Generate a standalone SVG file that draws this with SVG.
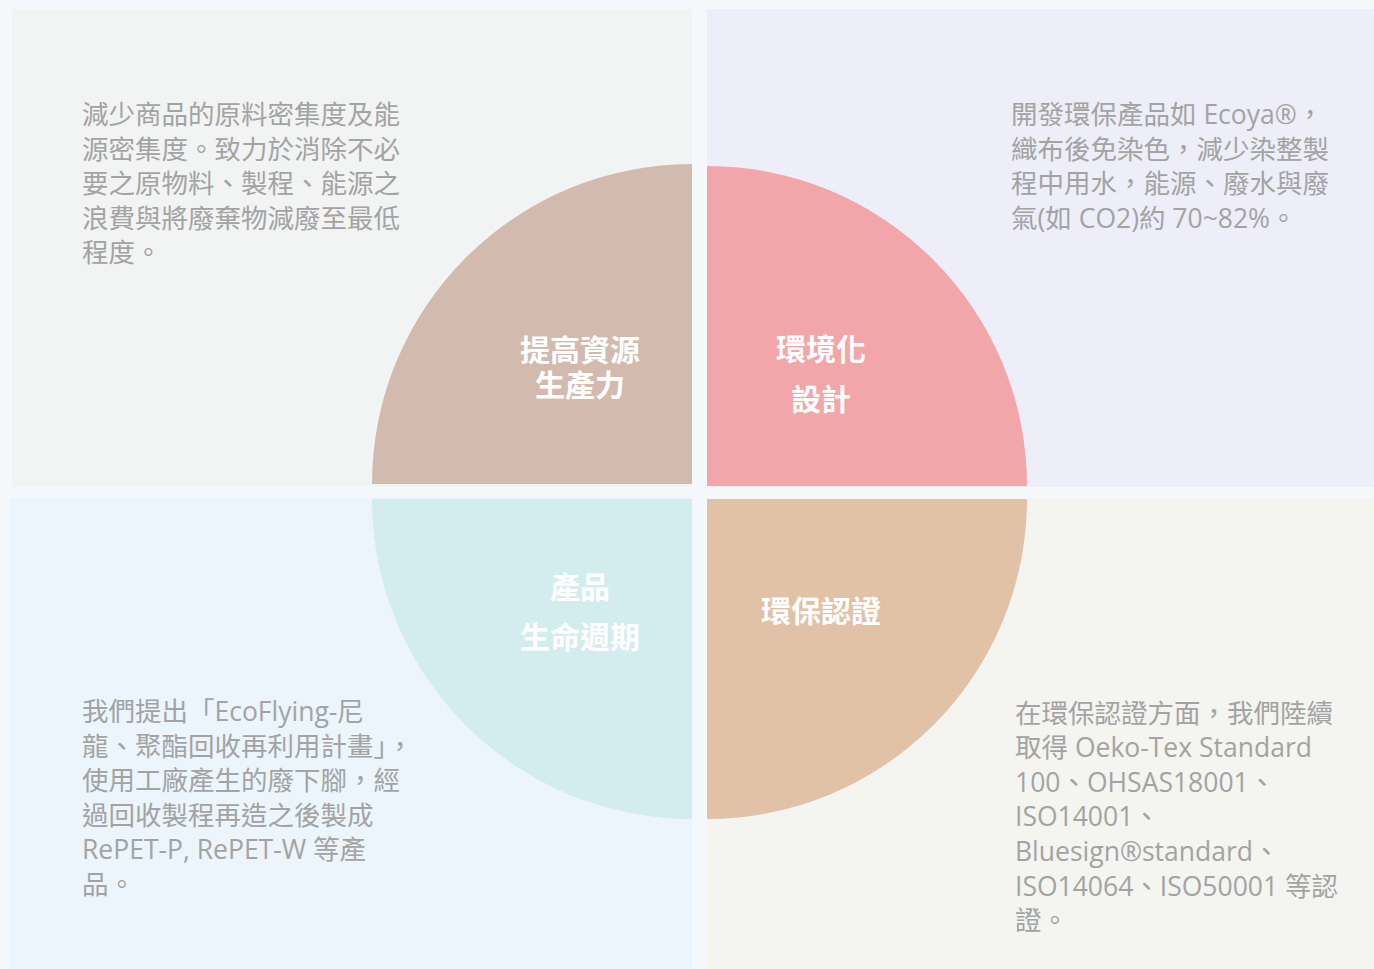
<svg xmlns="http://www.w3.org/2000/svg" width="1374" height="969" viewBox="0 0 1374 969">
<style>
.body{font-family:"Open Sans","Noto Sans CJK TC",sans-serif;font-size:26.5px;fill:#a3a3a3;}
.label{font-family:"Noto Sans CJK TC",sans-serif;font-size:30px;font-weight:700;fill:#ffffff;text-anchor:middle;}
</style>
<rect x="0" y="0" width="1374" height="969" fill="#f4f8fb"/>
<g id="panels">
<rect x="12" y="9" width="680" height="478" fill="#f2f3f3"/>
<rect x="707" y="9" width="667" height="478" fill="#eeeef8"/>
<rect x="10" y="498" width="682" height="471" fill="#ebf5fb"/>
<rect x="707" y="498" width="667" height="471" fill="#f4f4f1"/>
</g>
<g id="node-resource">
<path d="M692,484 L372,484 A320,320 0 0 1 692,164 Z" fill="#d2bbae"/>
<text class="label" x="580" y="361">提高資源</text>
<text class="label" x="580" y="396">生產力</text>
</g>
<g id="node-design">
<path d="M707,486 L707,166 A320,320 0 0 1 1027,486 Z" fill="#f2a6aa"/>
<text class="label" x="821" y="360">環境化</text>
<text class="label" x="821" y="410">設計</text>
</g>
<g id="node-lifecycle">
<path d="M692,499 L692,819 A320,320 0 0 1 372,499 Z" fill="#d3ecee"/>
<text class="label" x="580" y="598">產品</text>
<text class="label" x="580" y="648">生命週期</text>
</g>
<g id="node-cert">
<path d="M707,499 L1027,499 A320,320 0 0 1 707,819 Z" fill="#e1c2a7"/>
<text class="label" x="821" y="622">環保認證</text>
</g>
<g id="text-tl" class="body">
<text x="82" y="124">減少商品的原料密集度及能</text>
<text x="82" y="159">源密集度。致力於消除不必</text>
<text x="82" y="193">要之原物料、製程、能源之</text>
<text x="82" y="228">浪費與將廢棄物減廢至最低</text>
<text x="82" y="262">程度。</text>
</g>
<g id="text-tr" class="body">
<text x="1011" y="124">開發環保產品如 Ecoya®，</text>
<text x="1011" y="159">織布後免染色，減少染整製</text>
<text x="1011" y="193">程中用水，能源、廢水與廢</text>
<text x="1011" y="228">氣(如 CO2)約 70~82%。</text>
</g>
<g id="text-bl" class="body">
<text x="82" y="721">我們提出「EcoFlying-尼</text>
<text x="82" y="756">龍、聚酯回收再利用計畫」，</text>
<text x="82" y="790">使用工廠產生的廢下腳，經</text>
<text x="82" y="825">過回收製程再造之後製成</text>
<text x="82" y="859">RePET-P, RePET-W 等產</text>
<text x="82" y="894">品。</text>
</g>
<g id="text-br" class="body">
<text x="1015" y="723">在環保認證方面，我們陸續</text>
<text x="1015" y="757">取得 Oeko-Tex Standard</text>
<text x="1015" y="792">100、OHSAS18001、</text>
<text x="1015" y="826">ISO14001、</text>
<text x="1015" y="861">Bluesign®standard、</text>
<text x="1015" y="896">ISO14064、ISO50001 等認</text>
<text x="1015" y="930">證。</text>
</g>
<g id="connectors"></g>
</svg>
